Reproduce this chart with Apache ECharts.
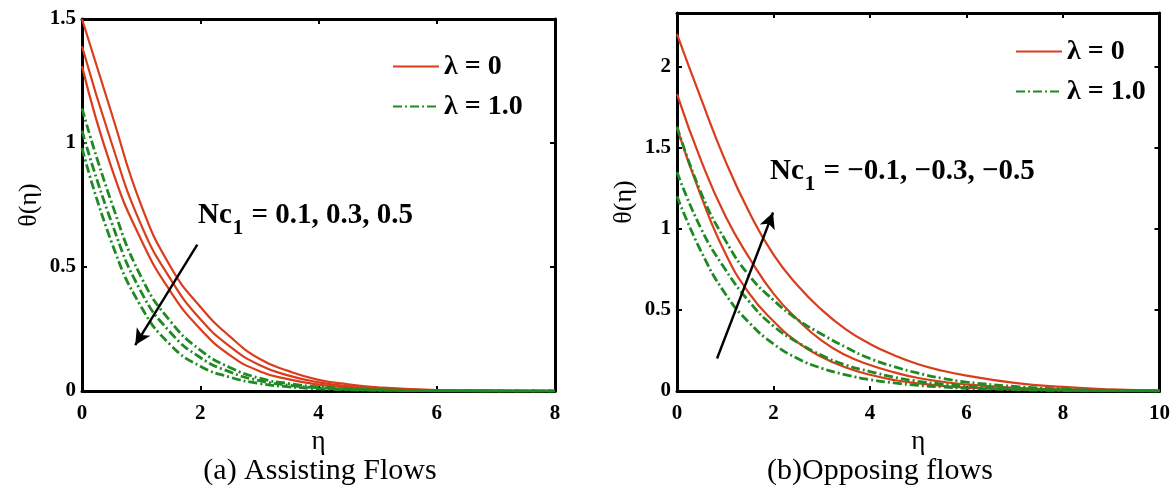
<!DOCTYPE html>
<html>
<head>
<meta charset="utf-8">
<script src="https://cdn.jsdelivr.net/npm/echarts@6/dist/echarts.min.js"></script>
<style>
  html, body { margin: 0; padding: 0; background: #fff; }
  #chart { width: 1173px; height: 490px; }
</style>
</head>
<body>
<div id="chart"></div>
<script>
// ---- Panel (a): assisting flows ----
const etaA = [0, 0.5, 1, 1.5, 2, 2.5, 3, 3.5, 4, 4.5, 5, 6, 7, 8];
const assistLam0 = [
  [1.5, 1.12, 0.75, 0.5, 0.34, 0.22, 0.13, 0.08, 0.045, 0.027, 0.015, 0.004, 0.001, 0],
  [1.39, 1.0, 0.67, 0.45, 0.29, 0.18, 0.105, 0.062, 0.035, 0.02, 0.011, 0.003, 0.001, 0],
  [1.31, 0.9, 0.61, 0.4, 0.25, 0.145, 0.08, 0.047, 0.026, 0.015, 0.008, 0.002, 0.0005, 0]
];
const assistLam1 = [
  [1.14, 0.76, 0.46, 0.28, 0.165, 0.095, 0.052, 0.03, 0.017, 0.009, 0.005, 0.0015, 0, 0],
  [1.05, 0.68, 0.4, 0.235, 0.135, 0.077, 0.042, 0.023, 0.013, 0.007, 0.004, 0.001, 0, 0],
  [0.98, 0.6, 0.34, 0.185, 0.1, 0.056, 0.03, 0.017, 0.009, 0.005, 0.003, 0.001, 0, 0]
];
const arrowA = [[1.95, 0.59], [0.9, 0.185]];

// ---- Panel (b): opposing flows ----
const etaB = [0, 0.5, 1, 1.5, 2, 2.5, 3, 3.5, 4, 4.5, 5, 5.5, 6, 7, 8, 9, 10];
const opposeLam0 = [
  [2.2, 1.8, 1.42, 1.1, 0.84, 0.65, 0.5, 0.38, 0.29, 0.22, 0.165, 0.125, 0.095, 0.05, 0.025, 0.01, 0.002],
  [1.83, 1.42, 1.08, 0.82, 0.6, 0.44, 0.31, 0.22, 0.16, 0.115, 0.08, 0.057, 0.04, 0.02, 0.01, 0.004, 0.001],
  [1.62, 1.2, 0.85, 0.6, 0.43, 0.3, 0.21, 0.145, 0.1, 0.068, 0.047, 0.032, 0.021, 0.01, 0.004, 0.002, 0]
];
const opposeLam1 = [
  [1.63, 1.22, 0.93, 0.71, 0.56, 0.44, 0.35, 0.27, 0.2, 0.15, 0.11, 0.078, 0.055, 0.028, 0.012, 0.004, 0.001],
  [1.35, 1.0, 0.75, 0.55, 0.4, 0.3, 0.22, 0.16, 0.12, 0.085, 0.06, 0.043, 0.03, 0.014, 0.006, 0.002, 0],
  [1.2, 0.86, 0.6, 0.42, 0.29, 0.2, 0.14, 0.1, 0.07, 0.05, 0.035, 0.025, 0.017, 0.008, 0.003, 0.001, 0]
];
const arrowB = [[0.83, 0.2], [1.99, 1.1]];

const legendNames = ['λ = 0', 'λ = 1.0'];
const xTicksA = { min: 0, max: 8, interval: 2 };
const yTicksA = { min: 0, max: 1.5, interval: 0.5 };
const xTicksB = { min: 0, max: 10, interval: 2 };
const yTicksB = { min: 0, max: 2.33, interval: 0.5 };

const RED = '#d93d1c';
const GREEN = '#1f8a23';
const SERIF = '"Times New Roman", "Liberation Serif", "DejaVu Serif", serif';

const chart = echarts.init(document.getElementById('chart'), null, { renderer: 'canvas' });

function pairs(xs, ys) { return xs.map((x, i) => [x, ys[i]]); }

function curve(name, xs, ys, axis, color, dashed) {
  return {
    type: 'line', name: name, xAxisIndex: axis, yAxisIndex: axis,
    data: pairs(xs, ys), symbol: 'none', smooth: 0.5,
    lineStyle: dashed
      ? { color: color, width: 2.8, type: [9, 3, 2, 3] }
      : { color: color, width: 2.2 },
    itemStyle: { color: color },
    z: dashed ? 3 : 2
  };
}

function arrowLine(pts, axis) {
  return {
    type: 'line', xAxisIndex: axis, yAxisIndex: axis, data: [], silent: true,
    markLine: {
      silent: true, symbol: ['none', 'arrow'], symbolSize: [12, 16],
      label: { show: false },
      lineStyle: { color: '#000', width: 2.4, type: 'solid' },
      emphasis: { disabled: true },
      data: [[{ coord: pts[0] }, { coord: pts[1] }]]
    }
  };
}

function bottomAxis(grid, ticks) {
  return {
    type: 'value', gridIndex: grid, position: 'bottom', ...ticks,
    name: 'η', nameLocation: 'middle', nameGap: 36,
    nameTextStyle: { fontFamily: SERIF, fontSize: 27, color: '#000' },
    axisLine: { onZero: false, lineStyle: { color: '#000', width: 3 } },
    axisTick: { inside: true, length: 5, lineStyle: { color: '#000', width: 2 } },
    axisLabel: { margin: 12, fontFamily: SERIF, fontWeight: 'bold', fontSize: 21, color: '#000' },
    splitLine: { show: false }
  };
}
function topAxis(grid, ticks) {
  return {
    type: 'value', gridIndex: grid, position: 'top', ...ticks,
    axisLine: { onZero: false, lineStyle: { color: '#000', width: 3 } },
    axisTick: { inside: true, length: 5, lineStyle: { color: '#000', width: 2 } },
    axisLabel: { show: false }, splitLine: { show: false }
  };
}
function leftAxis(grid, ticks) {
  return {
    type: 'value', gridIndex: grid, position: 'left', ...ticks,
    name: 'θ(η)', nameLocation: 'middle', nameGap: 40, nameRotate: 90,
    nameTextStyle: { fontFamily: SERIF, fontSize: 26, color: '#000' },
    axisLine: { onZero: false, lineStyle: { color: '#000', width: 3 } },
    axisTick: { inside: true, length: 5, lineStyle: { color: '#000', width: 2 } },
    axisLabel: { margin: 6, fontFamily: SERIF, fontWeight: 'bold', fontSize: 21, color: '#000',
                 showMaxLabel: ticks.max % ticks.interval === 0 },
    splitLine: { show: false }
  };
}
function rightAxis(grid, ticks) {
  return {
    type: 'value', gridIndex: grid, position: 'right', ...ticks,
    axisLine: { onZero: false, lineStyle: { color: '#000', width: 3 } },
    axisTick: { inside: true, length: 5, lineStyle: { color: '#000', width: 2 } },
    axisLabel: { show: false }, splitLine: { show: false }
  };
}

const series = [];
assistLam0.forEach(ys => series.push(curve(legendNames[0], etaA, ys, 0, RED, false)));
assistLam1.forEach(ys => series.push(curve(legendNames[1], etaA, ys, 0, GREEN, true)));
opposeLam0.forEach(ys => series.push(curve(legendNames[0], etaB, ys, 2, RED, false)));
opposeLam1.forEach(ys => series.push(curve(legendNames[1], etaB, ys, 2, GREEN, true)));
series.push(arrowLine(arrowA, 0));
series.push(arrowLine(arrowB, 2));

function legendAt(left, top) {
  return {
    data: legendNames, orient: 'vertical', left: left, top: top,
    itemWidth: 46, itemHeight: 20, itemGap: 11, selectedMode: false,
    itemStyle: { opacity: 0 },
    textStyle: { fontFamily: SERIF, fontWeight: 'bold', fontSize: 28, color: '#000', lineHeight: 29 }
  };
}

function annotation(left, top, values) {
  return {
    type: 'text', left: left, top: top, z: 100,
    style: {
      text: '{b|Nc}{s|1}{b| = ' + values + '}',
      rich: {
        b: { fontFamily: SERIF, fontWeight: 'bold', fontSize: 29, lineHeight: 31, verticalAlign: 'top', fill: '#000' },
        s: { fontFamily: SERIF, fontWeight: 'bold', fontSize: 21, lineHeight: 22, verticalAlign: 'top',
             padding: [17, 1, 0, 1], fill: '#000' }
      }
    }
  };
}

function caption(cx, top, text) {
  return {
    type: 'text', x: cx, y: top, z: 100,
    style: { text: text, fontFamily: SERIF, fontSize: 30, fill: '#000', align: 'center', verticalAlign: 'top' }
  };
}

chart.setOption({
  animation: false,
  backgroundColor: '#fff',
  grid: [
    { left: 82, top: 19, width: 473, height: 372 },
    { left: 677, top: 13, width: 483, height: 378 }
  ],
  xAxis: [bottomAxis(0, xTicksA), topAxis(0, xTicksA), bottomAxis(1, xTicksB), topAxis(1, xTicksB)],
  yAxis: [leftAxis(0, yTicksA), rightAxis(0, yTicksA), leftAxis(1, yTicksB), rightAxis(1, yTicksB)],
  legend: [legendAt(387, 47), legendAt(1010, 32)],
  series: series,
  graphic: [
    annotation(198, 201, '0.1, 0.3, 0.5'),
    annotation(770, 157, '−0.1, −0.3, −0.5'),
    caption(320, 456, '(a) Assisting Flows'),
    caption(880, 456, '(b)Opposing flows')
  ]
});
</script>
</body>
</html>
